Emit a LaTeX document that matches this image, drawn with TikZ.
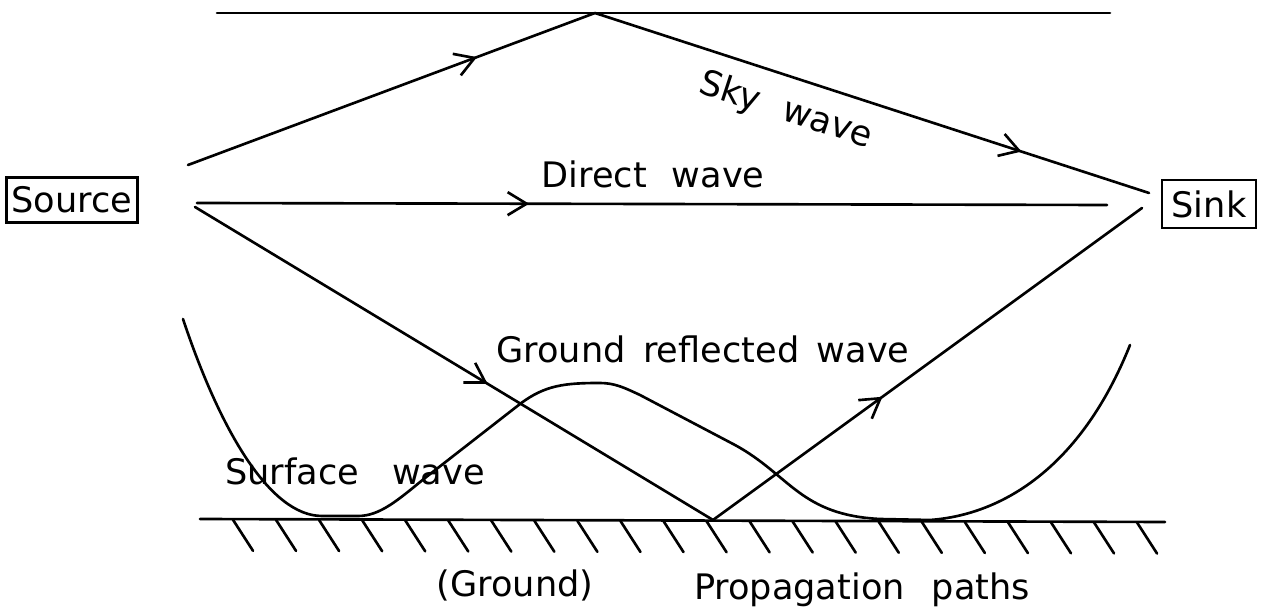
\documentclass[tikz,border=0pt]{standalone}
\usepackage{fontspec}
\newfontfamily\plotfont{DejaVu Sans}
\usetikzlibrary{arrows.meta,decorations.markings}
\tikzset{
  wire/.style={line width=1.5pt, line cap=round, line join=round},
  midarrow/.style={postaction={decorate},
    decoration={markings, mark=at position #1 with {\arrow{Straight Barb[length=0.38cm,width=0.46cm,line width=1.5pt]}}}},
  lbl/.style={font=\plotfont\fontsize{20}{24}\selectfont, inner sep=0pt},
  endbox/.style={draw, line width=1.5pt, font=\plotfont\fontsize{20}{24}\selectfont, inner sep=0pt},
  hatch/.style={line width=1.5pt, line cap=round}
}
\begin{document}
\begin{tikzpicture}[x=0.02cm, y=-0.02cm]
\useasboundingbox (0,0) rectangle (1268,614);

% end boxes
\node[endbox, minimum width=2.62cm, minimum height=0.9cm] (source) at (72,200) {Source};
\node[endbox, minimum width=1.88cm, minimum height=0.96cm] (sink) at (1209,204) {Sink};

% named path end points
\coordinate (skyL) at (188,165);
\coordinate (skyTop) at (595,13);
\coordinate (skyR) at (1149,193);
\coordinate (dirL) at (197,203);
\coordinate (dirR) at (1107,205);
\coordinate (grL) at (195,207);
\coordinate (grP) at (713,520);
\coordinate (grR) at (1142,208);
\coordinate (topL) at (217,13);
\coordinate (topR) at (1110,13);
\coordinate (gndL) at (200,519);
\coordinate (gndR) at (1165,522);

% ionosphere line
\draw[wire] (topL) -- (topR);

% sky wave
\draw[wire, midarrow=0.71] (skyL) -- (skyTop);
\draw[wire, midarrow=0.77] (skyTop) -- (skyR);

% direct wave
\draw[wire, midarrow=0.365] (dirL) -- (dirR);

% ground reflected wave
\draw[wire, midarrow=0.565] (grL) -- (grP);
\draw[wire, midarrow=0.395] (grP) -- (grR);

% surface wave
\draw[wire] (183,319) .. controls (220,430) and (270,516) .. (322,516)
  -- (358,516) .. controls (380,516) and (398,500) .. (425,478)
  -- (520,404) .. controls (545,385) and (565,383) .. (600,383)
  .. controls (615,383) and (625,388) .. (640,395)
  -- (735,445) .. controls (790,475) and (800,515) .. (880,519)
  -- (930,520) .. controls (1000,515) and (1080,470) .. (1130,345);

% ground
\draw[wire] (gndL) -- (gndR);
\foreach \i in {0,...,21} {
  \draw[hatch] (233+\i*43.05, 519.8+\i*0.13) -- ++(20,31);
}

% labels
\node[lbl, rotate=-18] (skylbl) at (786,111) {Sky\hspace{0.5cm}wave};
\node[lbl, anchor=base] (dirlbl) at (653,188) {Direct\hspace{0.5cm}wave};
\node[lbl, anchor=base] (grlbl) at (703,363) {Ground\hspace{0.35cm}reflected\hspace{0.35cm}wave};
\node[lbl, anchor=base] (surflbl) at (355,485) {Surface\hspace{0.66cm}wave};
\node[lbl, anchor=base] (gndlbl) at (515,597) {(Ground)};
\node[lbl, anchor=base] (proplbl) at (862,600) {Propagation\hspace{0.54cm}paths};
\end{tikzpicture}
\end{document}
